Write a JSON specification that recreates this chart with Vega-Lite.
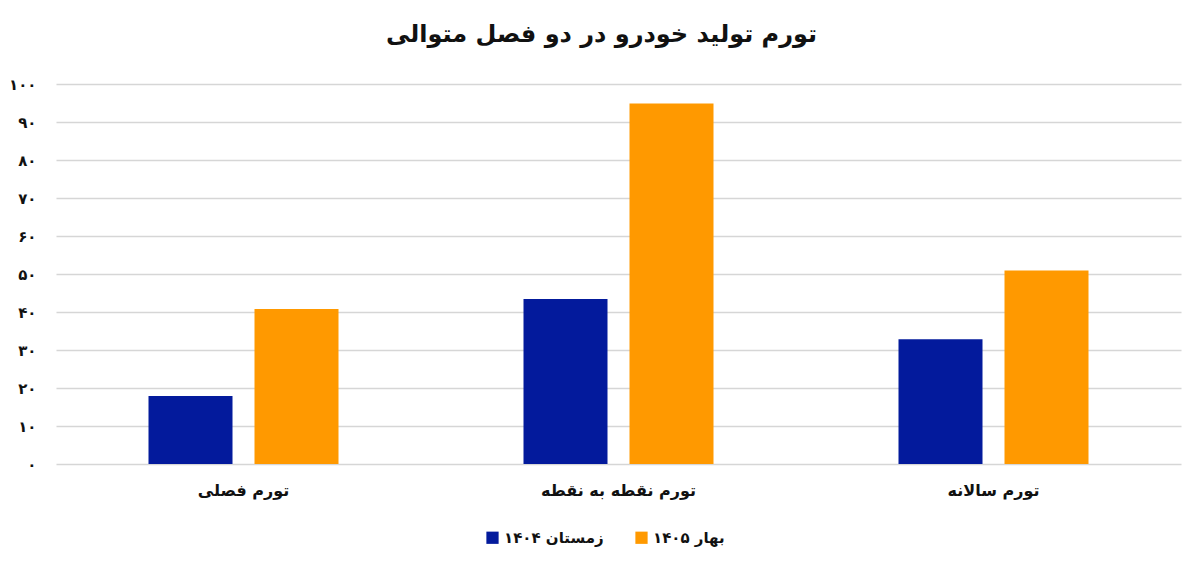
{
  "$schema": "https://vega.github.io/schema/vega-lite/v6.json",
  "width": 1125,
  "height": 380,
  "autosize": {"type": "none"},
  "padding": {"left": 56, "top": 84, "right": 19, "bottom": 107},
  "background": "white",
  "title": {
    "text": "تورم تولید خودرو در دو فصل متوالی",
    "font": "DejaVu Sans",
    "fontSize": 24,
    "fontWeight": "bold",
    "color": "#111111",
    "anchor": "middle",
    "dx": -17,
    "offset": 30
  },
  "data": {
    "values": [
      {"category": "تورم فصلی", "season": "زمستان ۱۴۰۴", "value": 17.9},
      {"category": "تورم فصلی", "season": "بهار ۱۴۰۵", "value": 40.8},
      {"category": "تورم نقطه به نقطه", "season": "زمستان ۱۴۰۴", "value": 43.4},
      {"category": "تورم نقطه به نقطه", "season": "بهار ۱۴۰۵", "value": 94.9},
      {"category": "تورم سالانه", "season": "زمستان ۱۴۰۴", "value": 32.8},
      {"category": "تورم سالانه", "season": "بهار ۱۴۰۵", "value": 50.9}
    ]
  },
  "mark": {"type": "bar"},
  "encoding": {
    "x": {
      "field": "category",
      "type": "nominal",
      "sort": ["تورم فصلی", "تورم نقطه به نقطه", "تورم سالانه"],
      "scale": {"paddingInner": 0, "paddingOuter": 0},
      "axis": {
        "title": null,
        "labelAngle": 0,
        "domain": false,
        "ticks": false,
        "labelFont": "DejaVu Sans",
        "labelFontSize": 16,
        "labelFontWeight": "bold",
        "labelColor": "#111111",
        "labelPadding": 18
      }
    },
    "xOffset": {
      "field": "season",
      "type": "nominal",
      "sort": ["زمستان ۱۴۰۴", "بهار ۱۴۰۵"],
      "scale": {"paddingInner": 0.2075, "paddingOuter": 0.8726}
    },
    "y": {
      "field": "value",
      "type": "quantitative",
      "scale": {"domain": [0, 100], "nice": false},
      "axis": {
        "title": null,
        "values": [0, 10, 20, 30, 40, 50, 60, 70, 80, 90, 100],
        "labelExpr": "['۰','۱۰','۲۰','۳۰','۴۰','۵۰','۶۰','۷۰','۸۰','۹۰','۱۰۰'][round(datum.value/10)]",
        "domain": false,
        "ticks": false,
        "grid": true,
        "gridColor": "#d6d6d6",
        "gridWidth": 1.5,
        "labelFont": "DejaVu Sans",
        "labelFontSize": 15,
        "labelFontWeight": "bold",
        "labelColor": "#111111",
        "labelPadding": 20
      }
    },
    "color": {
      "field": "season",
      "type": "nominal",
      "sort": ["زمستان ۱۴۰۴", "بهار ۱۴۰۵"],
      "scale": {"domain": ["زمستان ۱۴۰۴", "بهار ۱۴۰۵"], "range": ["#031a9c", "#ff9900"]},
      "legend": {
        "title": null,
        "orient": "none",
        "direction": "horizontal",
        "legendX": 429,
        "legendY": 446,
        "symbolType": "square",
        "symbolSize": 150,
        "symbolOpacity": 1,
        "labelFont": "DejaVu Sans",
        "labelFontSize": 15,
        "labelFontWeight": "bold",
        "labelColor": "#111111",
        "columnPadding": 30
      }
    }
  },
  "config": {"view": {"stroke": null}}
}
